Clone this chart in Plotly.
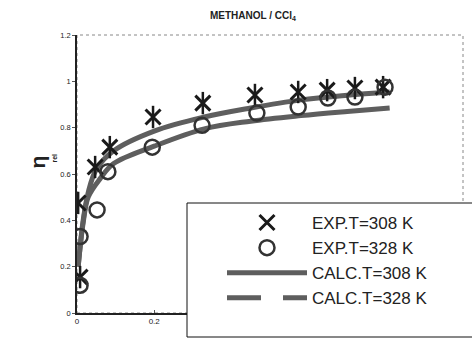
import plotly.graph_objects as go

# ---- data ----
exp308_x = [0.008, 0.003, 0.047, 0.085, 0.197, 0.326, 0.461, 0.573, 0.648, 0.720, 0.793]
exp308_y = [0.155, 0.475, 0.630, 0.716, 0.846, 0.906, 0.941, 0.954, 0.962, 0.971, 0.975]

exp328_x = [0.008, 0.008, 0.052, 0.080, 0.195, 0.324, 0.466, 0.573, 0.650, 0.720, 0.798]
exp328_y = [0.120, 0.330, 0.445, 0.610, 0.716, 0.810, 0.863, 0.889, 0.928, 0.932, 0.975]

calc308_x = [0.003, 0.016, 0.029, 0.050, 0.095, 0.200, 0.330, 0.450, 0.580, 0.700, 0.810]
calc308_y = [0.200, 0.400, 0.520, 0.620, 0.700, 0.785, 0.846, 0.885, 0.920, 0.940, 0.954]

calc328_x = [0.003, 0.016, 0.029, 0.060, 0.095, 0.200, 0.330, 0.450, 0.580, 0.700, 0.810]
calc328_y = [0.200, 0.390, 0.500, 0.580, 0.645, 0.720, 0.795, 0.828, 0.852, 0.870, 0.885]

y_ticks = [0, 0.2, 0.4, 0.6, 0.8, 1, 1.2]
y_ticklabels = ["0", "0.2", "0.4", "0.6", "0.8", "1", "1.2"]
x_ticks = [0, 0.2]
x_ticklabels = ["0", "0.2"]

names = ["EXP.T=308 K", "EXP.T=328 K", "CALC.T=308 K", "CALC.T=328 K"]
title_text = "METHANOL / CCl<sub>4</sub>"

# ---- geometry ----
W, H = 472, 339
L, R, T, B = 77, 9, 35, 26
pw, ph = W - L - R, H - T - B

def px_x(p):
    return (p - L) / pw

def px_y(p):
    return (H - B - p) / ph

fig = go.Figure()

line_col = "#5e5e5e"
star_col = "#1a1a1a"
circ_col = "#333333"

fig.add_trace(go.Scatter(x=calc308_x, y=calc308_y, mode="lines", line=dict(color=line_col, width=5, shape="spline"),
                         name=names[2], showlegend=False))
fig.add_trace(go.Scatter(x=calc328_x, y=calc328_y, mode="lines", line=dict(color=line_col, width=5, shape="spline"),
                         name=names[3], showlegend=False))

# stars: X plus vertical bar
fig.add_trace(go.Scatter(x=exp308_x, y=exp308_y, mode="markers", name=names[0],
                         marker=dict(symbol="x-thin-open", size=15, color=star_col,
                                     line=dict(color=star_col, width=3))))
fig.add_trace(go.Scatter(x=exp308_x, y=exp308_y, mode="markers", showlegend=False, name=names[0],
                         marker=dict(symbol="line-ns-open", size=16, color=star_col,
                                     line=dict(color=star_col, width=2.5))))
fig.add_trace(go.Scatter(x=exp328_x, y=exp328_y, mode="markers", name=names[1],
                         marker=dict(symbol="circle-open", size=15, color=circ_col,
                                     line=dict(color=circ_col, width=2.5))))

# legend-only entries for the curves
fig.add_trace(go.Scatter(x=[None], y=[None], mode="lines", name=names[2],
                         line=dict(color=line_col, width=5)))
fig.add_trace(go.Scatter(x=[None], y=[None], mode="lines", name=names[3],
                         line=dict(color=line_col, width=5, dash="34px,22px")))

shapes = [
    # plot-area border (dotted gray top/right)
    dict(type="rect", xref="paper", yref="paper", x0=0, x1=1, y0=0, y1=1,
         line=dict(color="#888888", width=1, dash="dot"), layer="below"),
    # legend box
    dict(type="rect", xref="paper", yref="paper", x0=px_x(187), x1=px_x(480), y0=px_y(337), y1=px_y(203),
         line=dict(color="#111111", width=1), fillcolor="white", layer="above"),
]

fig.update_layout(
    width=W, height=H,
    margin=dict(l=L, r=R, t=T, b=B),
    paper_bgcolor="white", plot_bgcolor="white",
    font=dict(family="Arial, Liberation Sans, sans-serif", color="#222222"),
    title=dict(text="<b>" + title_text + "</b>", xref="paper", x=px_x(253), xanchor="center",
               yref="container", y=1 - 15 / H, yanchor="middle",
               font=dict(size=10, color="#222222")),
    xaxis=dict(range=[0, 1], tickvals=x_ticks, ticktext=x_ticklabels, showgrid=False, zeroline=False,
               showline=True, linecolor="#222222", linewidth=1.5, ticks="inside", ticklen=3,
               tickcolor="#555555", tickfont=dict(size=8)),
    yaxis=dict(range=[0, 1.2], tickvals=y_ticks, ticktext=y_ticklabels, showgrid=False, zeroline=False,
               showline=True, linecolor="#222222", linewidth=1.5, ticks="outside", ticklen=3,
               tickcolor="#555555", tickfont=dict(size=7.5)),
    legend=dict(x=px_x(222), y=px_y(205), xanchor="left", yanchor="top", bgcolor="rgba(0,0,0,0)",
                borderwidth=0, itemwidth=80, font=dict(size=17, color="#222222"), tracegroupgap=0),
    shapes=shapes,
    annotations=[
        dict(text="<b>η</b>", xref="paper", yref="paper", x=px_x(23), y=px_y(162), showarrow=False,
             textangle=-90, font=dict(size=21, color="#222222")),
        dict(text="<b>rel</b>", xref="paper", yref="paper", x=px_x(48), y=px_y(158), showarrow=False,
             textangle=-90, font=dict(size=7, color="#222222")),
    ],
)

fig.write_html("out.html")
